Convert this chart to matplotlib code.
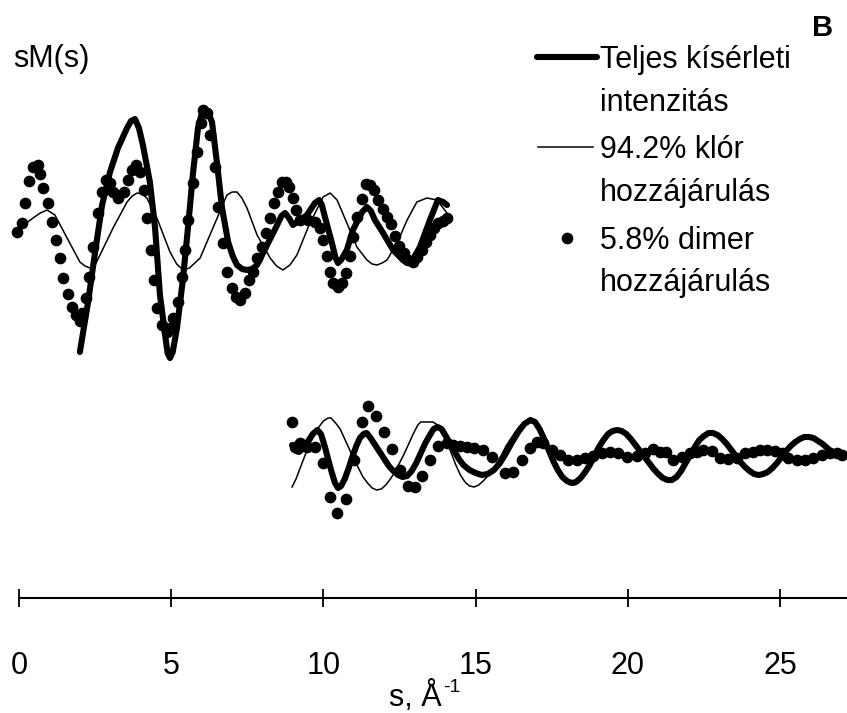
import matplotlib.pyplot as plt
from matplotlib.lines import Line2D

plt.rcParams['font.family'] = ['Liberation Sans', 'DejaVu Sans']

# --- upper block: s from 0 to 14 ---
s_tot_lo = [2.00, 2.27, 2.50, 2.73, 2.99, 3.25, 3.55, 3.68, 3.81, 3.94, 4.07, 4.30,
            4.47, 4.63, 4.80, 4.88, 4.96, 5.05, 5.19, 5.39, 5.55, 5.72, 5.88, 6.00,
            6.11, 6.22, 6.34, 6.50, 6.67, 6.87, 7.02, 7.16, 7.33, 7.49, 7.66, 7.82,
            8.15, 8.48, 8.62, 8.74, 8.87, 9.00, 9.23, 9.46, 9.72, 9.86, 9.95, 10.05,
            10.28, 10.40, 10.48, 10.58, 10.77, 10.97, 11.27, 11.43, 11.56, 11.69,
            11.96, 12.29, 12.61, 12.75, 12.84, 12.95, 13.17, 13.50, 13.76, 13.93,
            14.06]
sm_tot_lo = [-12.2, -7.2, -2.2, 2.5, 5.8, 8.2, 10.2, 10.9, 11.1, 10.2, 8.5, 4.8,
             0.2, -6.5, -10.5, -12.3, -12.8, -12.2, -9.8, -4.8, 0.2, 5.8, 10.2, 11.6,
             12.0, 11.7, 10.8, 6.8, 2.2, -1.2, -2.6, -3.5, -3.9, -4.0, -3.9, -3.5,
             -1.5, 0.5, 1.4, 1.7, 1.2, 0.5, 1.0, 1.5, 2.7, 3.0, 2.5, 1.3,
             -1.3, -2.8, -3.3, -3.0, -2.0, 0.0, 1.8, 2.3, 1.9, 1.0,
             -0.3, -2.0, -3.0, -3.3, -3.3, -2.9, -1.7, 1.0, 3.0, 2.8,
             2.5]

s_cl_lo = [-0.07, 0.20, 0.46, 0.70, 0.92, 1.18, 1.58, 2.00, 2.17, 2.33, 2.50, 2.66,
           3.09, 3.55, 3.72, 3.88, 4.04, 4.20, 4.53, 4.96, 5.18, 5.39, 5.60, 5.95,
           6.37, 6.83, 7.00, 7.16, 7.32, 7.49, 7.82, 8.25, 8.46, 8.67, 8.90, 9.13,
           9.49, 9.66, 9.99, 10.22, 10.45, 10.77, 11.10, 11.43, 11.60, 11.76, 11.93,
           12.09, 12.42, 12.75, 13.07, 13.40, 13.73, 14.06]
sm_cl_lo = [0.0, 0.6, 1.2, 1.7, 2.0, 1.5, -0.8, -3.2, -3.6, -3.8, -3.5, -2.5,
            0.2, 2.8, 3.4, 3.7, 3.6, 3.2, 1.2, -2.2, -3.4, -4.0, -3.8, -2.8,
            0.2, 3.5, 3.8, 3.8, 3.2, 2.2, -0.5, -2.8, -3.6, -4.0, -3.5, -2.5,
            0.2, 1.3, 3.3, 3.7, 3.0, 0.7, -1.7, -3.0, -3.4, -3.5, -3.3,
            -3.0, -1.3, 1.0, 2.8, 3.2, 3.0, 1.7]

s_dim_lo = [-0.07, 0.10, 0.20, 0.33, 0.46, 0.62, 0.69, 0.79, 0.95, 1.08, 1.22, 1.35,
            1.45, 1.61, 1.74, 1.87, 2.00, 2.07, 2.20, 2.30, 2.43, 2.60, 2.73, 2.86,
            2.99, 3.09, 3.25, 3.45, 3.58, 3.71, 3.84, 3.97, 4.11, 4.20, 4.34, 4.43,
            4.53, 4.70, 4.86, 4.96, 5.06, 5.22, 5.35, 5.45, 5.55, 5.72, 5.85, 5.98,
            6.04, 6.18, 6.27, 6.44, 6.54, 6.70, 6.83, 7.00, 7.13, 7.26, 7.42, 7.56,
            7.69, 7.82, 7.98, 8.11, 8.25, 8.38, 8.51, 8.64, 8.77, 8.87, 9.00, 9.10,
            9.23, 9.49, 9.72, 9.89, 9.99, 10.12, 10.22, 10.32, 10.48, 10.61, 10.74,
            10.87, 10.97, 11.10, 11.27, 11.40, 11.53, 11.66, 11.79, 11.96, 12.09,
            12.22, 12.35, 12.48, 12.65, 12.78, 12.94, 13.07, 13.24, 13.37, 13.50,
            13.63, 13.76, 13.93, 14.06]
sm_dim_lo = [-0.2, 0.7, 2.7, 4.9, 6.3, 6.5, 5.6, 4.2, 2.7, 0.8, -1.0, -2.8,
             -4.8, -6.4, -7.7, -8.5, -9.1, -8.3, -6.8, -4.7, -1.7, 1.7, 3.8, 5.0,
             4.7, 3.8, 3.2, 3.8, 5.0, 6.0, 6.5, 5.8, 4.0, 1.2, -2.0, -5.0,
             -7.8, -9.5, -10.2, -9.8, -8.8, -7.2, -4.7, -2.0, 1.0, 4.7, 7.8, 10.7,
             12.0, 11.7, 9.5, 6.3, 2.3, -1.3, -4.2, -5.8, -6.7, -7.0, -6.3, -5.0,
             -4.2, -2.8, -1.7, -0.3, 1.2, 2.7, 3.8, 4.8, 4.8, 4.3, 3.2, 2.0,
             1.0, 1.0, 0.8, 0.2, -1.0, -2.6, -4.2, -5.3, -5.7, -5.3, -4.3,
             -2.6, -0.7, 1.3, 3.1, 4.6, 4.5, 4.0, 3.0, 2.1, 1.3,
             0.6, -0.6, -1.6, -2.3, -3.0, -3.2, -2.7, -2.0, -1.2, -0.5,
             0.2, 0.7, 0.9, 1.2]

# --- lower block: s from 9 to 27 ---
s_tot_hi = [8.97, 9.10, 9.20, 9.35, 9.50, 9.65, 9.80, 9.92, 10.05, 10.17, 10.28,
            10.38, 10.48, 10.58, 10.70, 10.82, 10.95, 11.08, 11.20, 11.32, 11.42,
            11.55, 11.70, 11.85, 12.00, 12.15, 12.30, 12.45, 12.60, 12.75, 12.90,
            13.05, 13.20, 13.35, 13.50, 13.62, 13.75, 13.88, 14.00, 14.15, 14.30,
            14.45, 14.60, 14.80, 15.00, 15.20, 15.40, 15.60, 15.80, 16.00, 16.20,
            16.40, 16.60, 16.80, 16.95, 17.10, 17.25, 17.40, 17.55, 17.70, 17.85,
            18.00, 18.15, 18.30, 18.45, 18.60, 18.75, 18.90, 19.05, 19.20, 19.35,
            19.50, 19.65, 19.80, 19.95, 20.10, 20.25, 20.40, 20.55, 20.70, 20.85,
            21.00, 21.15, 21.30, 21.45, 21.60, 21.75, 21.90, 22.05, 22.20, 22.35,
            22.50, 22.65, 22.80, 22.95, 23.10, 23.25, 23.40, 23.55, 23.70, 23.85,
            24.00, 24.15, 24.30, 24.45, 24.60, 24.75, 24.90, 25.05, 25.20, 25.35,
            25.50, 25.65, 25.80, 25.95, 26.10, 26.25, 26.40, 26.55, 26.70, 26.85,
            27.04]
sm_tot_hi = [1.0, 0.4, 0.3, 0.7, 1.4, 2.1, 2.5, 2.1, 0.8, -0.6, -1.8,
             -2.8, -3.3, -3.1, -2.4, -1.4, -0.2, 0.9, 1.7, 2.1, 2.2,
             1.7, 1.0, 0.3, -0.4, -1.1, -1.6, -2.0, -2.2, -2.1, -1.6,
             -0.8, 0.2, 1.2, 2.0, 2.6, 2.8, 2.6, 2.0, 1.2, 0.4,
             -0.4, -1.0, -1.5, -1.8, -2.0, -1.9, -1.5, -0.8, 0.2, 1.3,
             2.3, 3.1, 3.5, 3.3, 2.6, 1.6, 0.5, -0.6, -1.5, -2.2,
             -2.6, -2.8, -2.7, -2.3, -1.7, -1.0, -0.1, 0.8, 1.5, 2.1,
             2.4, 2.5, 2.4, 2.1, 1.6, 1.0, 0.4, -0.2, -0.8, -1.4,
             -1.9, -2.3, -2.5, -2.5, -2.2, -1.6, -0.8, 0.0, 0.8, 1.5,
             1.9, 2.2, 2.2, 2.0, 1.6, 1.1, 0.5, -0.1, -0.7, -1.2,
             -1.6, -1.9, -2.0, -1.9, -1.7, -1.3, -0.8, -0.2, 0.4, 0.9,
             1.3, 1.6, 1.8, 1.8, 1.7, 1.4, 1.1, 0.7, 0.3, 0.0,
             -0.3]

s_cl_hi = [8.97, 9.10, 9.25, 9.40, 9.55, 9.70, 9.85, 10.00, 10.15, 10.25, 10.40,
           10.55, 10.70, 10.85, 11.00, 11.15, 11.30, 11.45, 11.60, 11.75, 11.90,
           12.05, 12.20, 12.35, 12.50, 12.65, 12.80, 12.95, 13.10, 13.20, 13.40,
           13.60, 13.75, 13.90, 14.05, 14.20, 14.35, 14.50, 14.65, 14.80, 14.95,
           15.10, 15.25, 15.40, 15.55, 15.70, 15.85, 16.00, 16.15, 16.30, 16.45,
           16.60, 16.75, 16.90, 17.05, 17.20, 17.35, 17.50, 17.65, 17.80, 17.95,
           18.10, 18.25, 18.40, 18.55, 18.70, 18.85, 19.00, 19.15, 19.30, 19.45,
           19.60, 19.75, 19.90, 20.05, 20.20, 20.35, 20.50, 20.65, 20.80, 20.95,
           21.10, 21.25, 21.40, 21.55, 21.70, 21.85, 22.00, 22.15, 22.30, 22.45,
           22.60, 22.75, 22.90, 23.05, 23.20, 23.35, 23.50, 23.65, 23.80, 23.95,
           24.10, 24.25, 24.40, 24.55, 24.70, 24.85, 25.00, 25.15, 25.30, 25.45,
           25.60, 25.75, 25.90, 26.05, 26.20, 26.35, 26.50, 26.65, 26.80, 26.95,
           27.07]
sm_cl_hi = [-3.2, -2.4, -1.2, 0.0, 1.1, 2.0, 2.8, 3.4, 3.7, 3.7, 3.2,
            2.6, 1.6, 0.6, -0.4, -1.3, -2.2, -2.8, -3.3, -3.5, -3.4,
            -3.0, -2.4, -1.7, -0.8, 0.1, 1.1, 2.1, 3.0, 3.3, 3.3,
            3.3, 3.0, 2.5, 1.4, 0.2, -1.0, -2.0, -2.7, -3.1, -3.2,
            -3.0, -2.6, -2.1, -1.5, -0.8, 0.0, 0.9, 1.6, 2.3, 2.9,
            3.3, 3.5, 3.3, 2.7, 1.8, 0.8, -0.2, -1.1, -1.9, -2.5,
            -2.9, -3.0, -2.7, -2.2, -1.5, -0.6, 0.3, 1.1, 1.8, 2.3,
            2.6, 2.6, 2.4, 2.0, 1.4, 0.8, 0.2, -0.4, -1.0, -1.5,
            -2.0, -2.3, -2.4, -2.2, -1.7, -1.0, -0.2, 0.6, 1.3, 1.9,
            2.2, 2.3, 2.1, 1.8, 1.3, 0.8, 0.2, -0.4, -0.9, -1.4,
            -1.7, -2.0, -2.0, -1.9, -1.6, -1.1, -0.6, 0.0, 0.6, 1.1,
            1.5, 1.8, 1.9, 1.8, 1.6, 1.3, 0.9, 0.5, 0.1, -0.2,
            -0.4]

s_dim_hi = [8.97, 9.07, 9.23, 9.46, 9.72, 9.99, 10.22, 10.45, 10.74, 11.00, 11.27,
            11.46, 11.73, 11.99, 12.25, 12.52, 12.78, 13.01, 13.24, 13.50, 13.76,
            14.06, 14.26, 14.49, 14.72, 14.95, 15.24, 15.54, 15.97, 16.23, 16.52,
            16.79, 17.02, 17.21, 17.51, 17.77, 18.03, 18.33, 18.59, 18.86, 19.15,
            19.41, 19.68, 19.97, 20.30, 20.56, 20.83, 21.06, 21.25, 21.48, 21.78,
            22.04, 22.27, 22.47, 22.77, 23.03, 23.29, 23.59, 23.85, 24.11, 24.34,
            24.57, 24.83, 25.06, 25.26, 25.56, 25.82, 26.08, 26.38, 26.64, 26.87,
            27.04]
sm_dim_hi = [3.3, 0.8, 1.2, 0.8, 0.8, -0.8, -4.2, -5.8, -4.4, -0.5, 3.3,
             4.9, 3.9, 2.3, 0.6, -1.5, -3.1, -3.2, -2.1, -0.5, 0.9,
             1.2, 1.0, 0.9, 0.8, 0.7, 0.5, -0.2, -1.8, -1.7, -0.5,
             0.7, 1.3, 1.2, 0.5, 0.0, -0.5, -0.5, -0.3, -0.1, 0.2,
             0.3, 0.2, -0.2, -0.1, 0.2, 0.6, 0.3, 0.3, -0.5, -0.2,
             0.2, 0.3, 0.5, 0.4, -0.3, -0.4, -0.3, 0.2, 0.3, 0.5,
             0.5, 0.4, 0.2, -0.3, -0.5, -0.5, -0.3, 0.0, 0.2, 0.2,
             0.0]

hi_offset = -22.5   # vertical shift of the second block
tick_pos = [0, 5, 10, 15, 20, 25]

W, H = 847, 713
fig = plt.figure(figsize=(W / 100, H / 100), dpi=100)
ax = fig.add_axes([0, 0, 1, 1])
ax.set_xlim(-0.624, 27.20)
ax.set_ylim(-48.3, 23.0)

thick = dict(color='black', lw=4.4, solid_capstyle='round', solid_joinstyle='round')
thin = dict(color='black', lw=1.1, solid_joinstyle='round')
dots = dict(color='black', ls='none', marker='o', ms=7.4)

ax.plot(s_cl_lo, sm_cl_lo, **thin)
ax.plot(s_tot_lo, sm_tot_lo, **thick)
ax.plot(s_dim_lo, sm_dim_lo, **dots)

ax.plot(s_cl_hi, [v + hi_offset for v in sm_cl_hi], **thin)
ax.plot(s_tot_hi, [v + hi_offset for v in sm_tot_hi], **thick)
ax.plot(s_dim_hi, [v + hi_offset for v in sm_dim_hi], **dots)

# only the s axis is drawn
for side in ['left', 'right', 'top']:
    ax.spines[side].set_visible(False)
ax.spines['bottom'].set_position(('data', -36.8))
ax.spines['bottom'].set_bounds(0, 27.2)
ax.spines['bottom'].set_linewidth(1.5)
ax.set_yticks([])
ax.set_xticks(tick_pos)
ax.tick_params(axis='x', direction='inout', length=13, width=1.3,
               labelsize=22, pad=32)

fs = 22


def px(x, y):
    return x / W, 1 - y / H


fig.text(*px(389, 706), 's, Å', fontsize=fs, ha='left', va='baseline')
fig.text(*px(443, 692), '-1', fontsize=14, ha='left', va='baseline')
fig.text(*px(13, 67), 'sM(s)', fontsize=fs, ha='left', va='baseline')
fig.text(*px(833, 36), 'B', fontsize=21, fontweight='bold', ha='right', va='baseline')

# legend
fig.add_artist(Line2D([537 / W, 597 / W], [1 - 57 / H] * 2, **thick))
fig.add_artist(Line2D([538 / W, 593 / W], [1 - 147 / H] * 2, **thin))
fig.add_artist(Line2D([567 / W], [1 - 238 / H], **dots))
legend_lines = [('Teljes kísérleti', 68), ('intenzitás', 111),
                ('94.2% klór', 158), ('hozzájárulás', 201),
                ('5.8% dimer', 249), ('hozzájárulás', 291)]
for txt, yb in legend_lines:
    fig.text(*px(600, yb), txt, fontsize=fs, ha='left', va='baseline')

fig.savefig('out.png', dpi=100)
